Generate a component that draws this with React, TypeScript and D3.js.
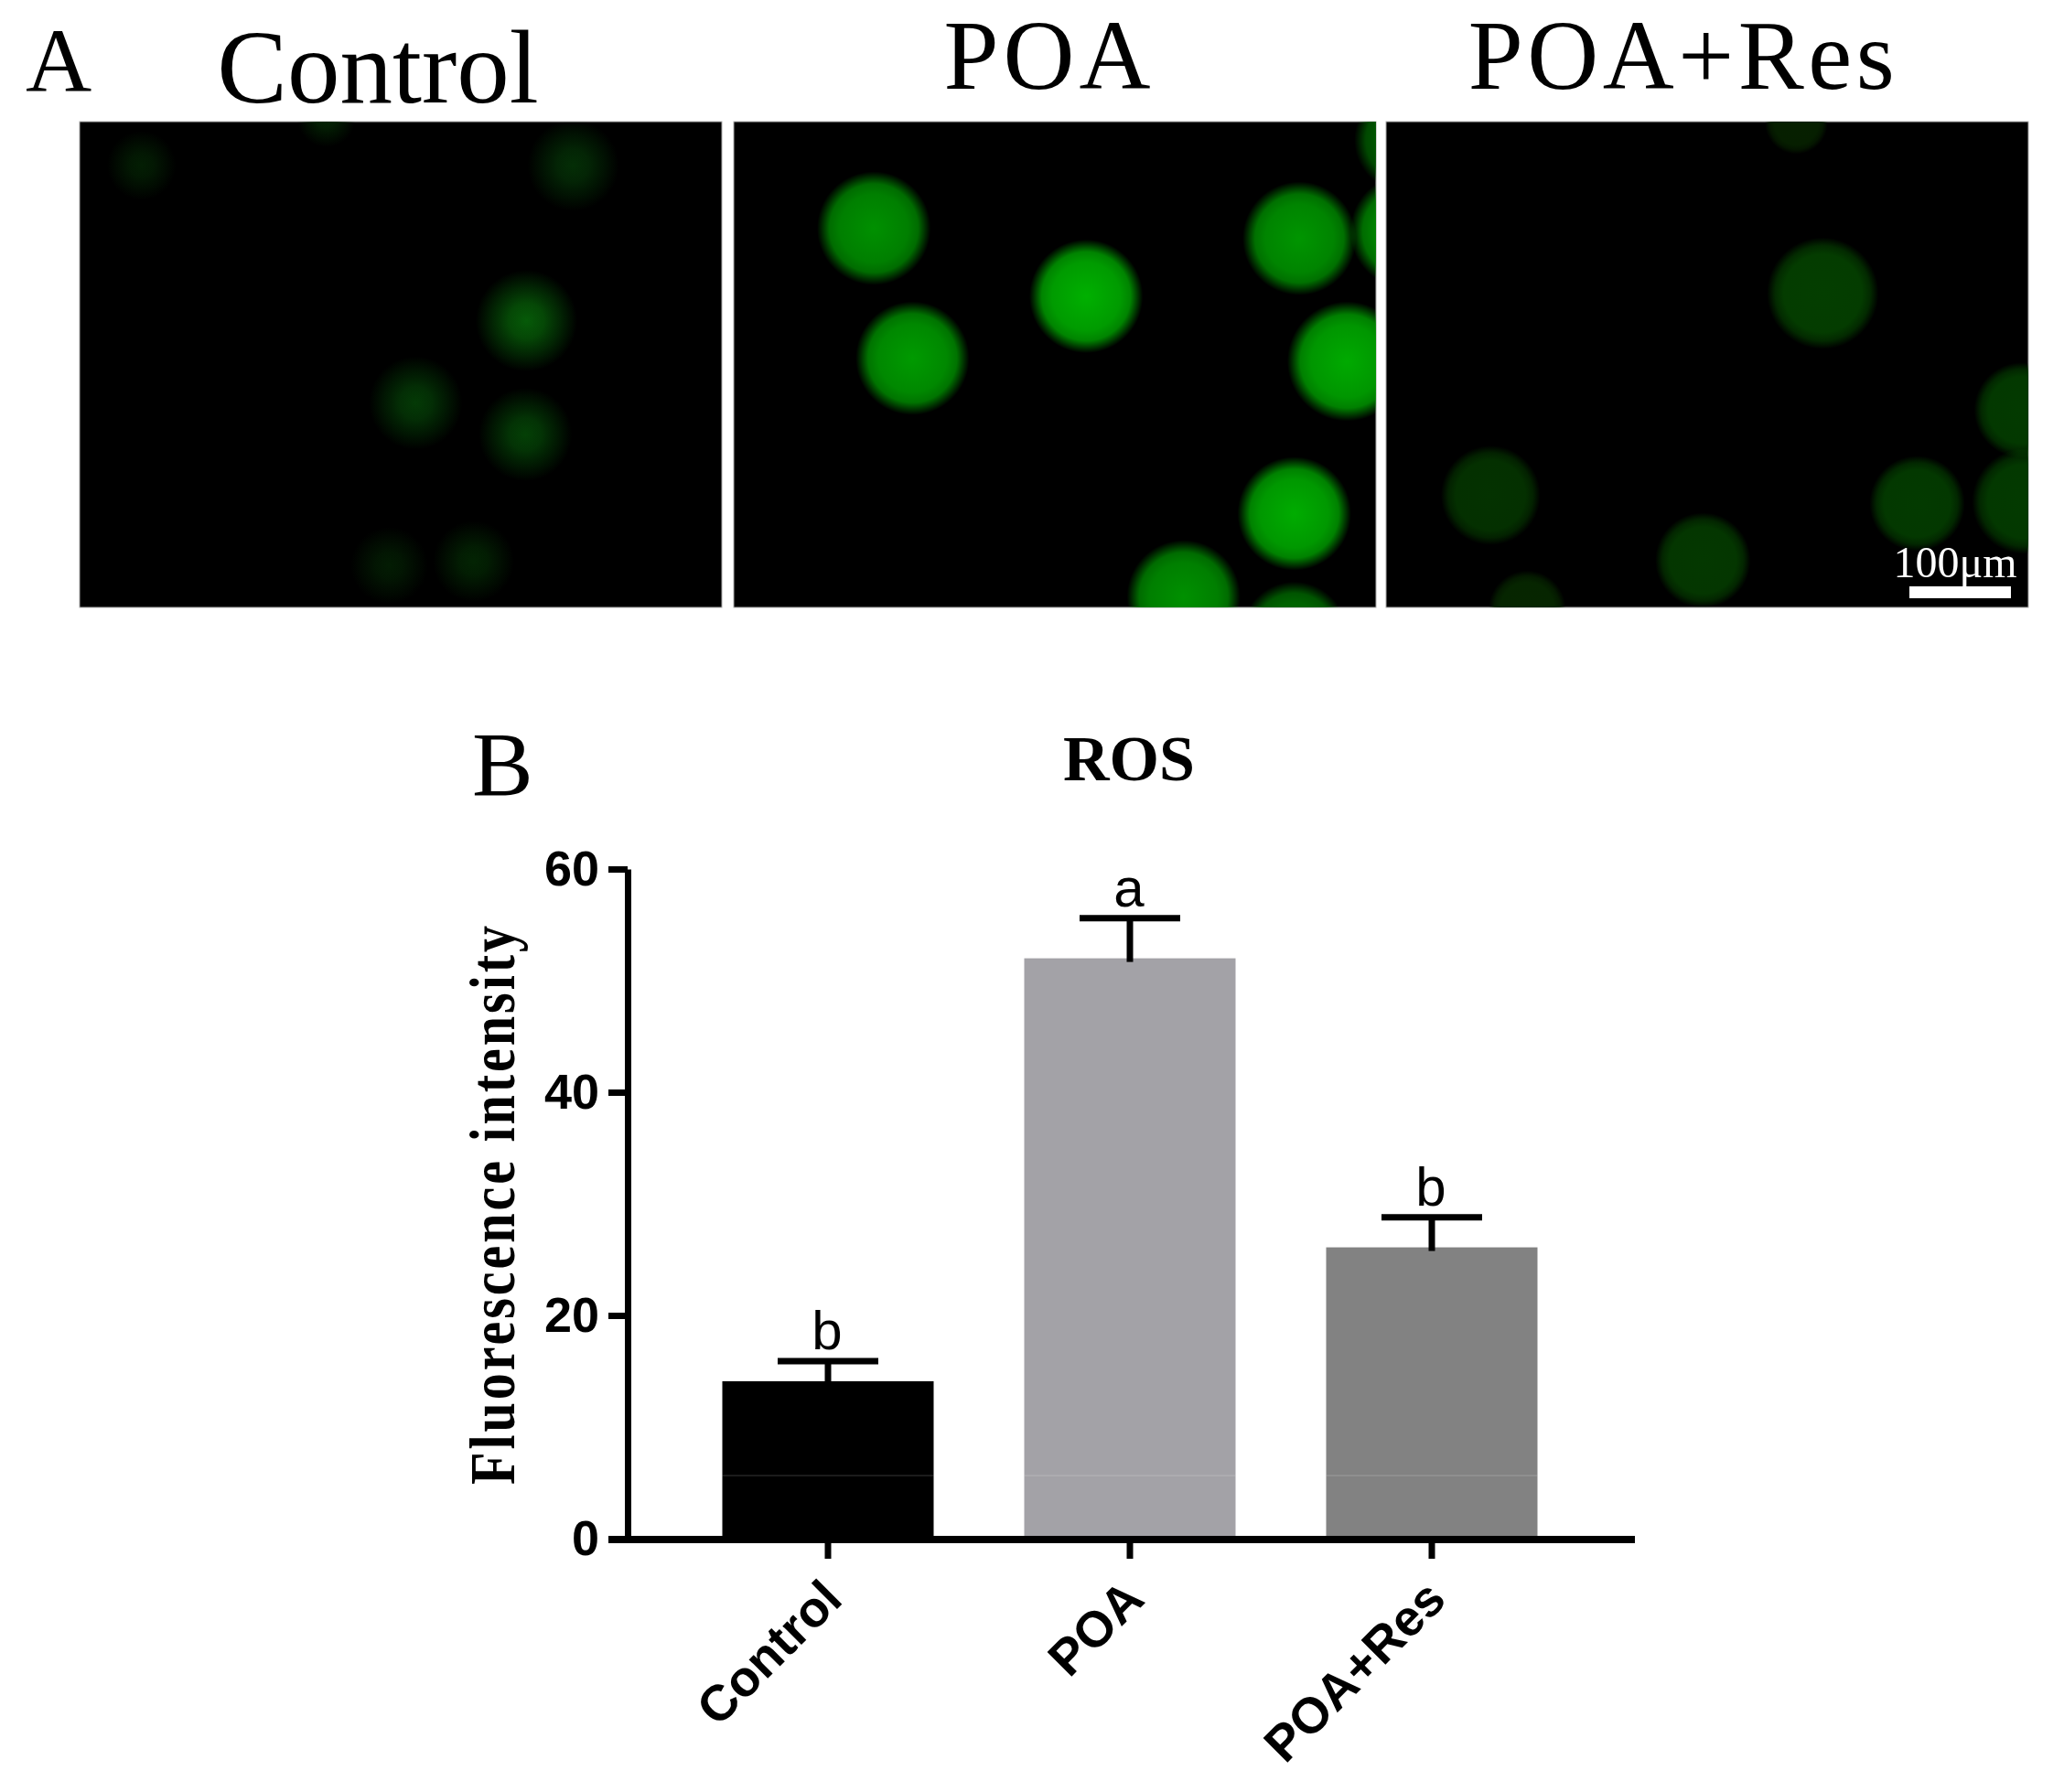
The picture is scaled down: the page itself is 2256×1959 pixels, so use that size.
import { useEffect, useRef } from "react";
import * as d3 from "d3";

// micrographs: cell positions in µm from the top left corner of each field, [x, y, r, colour]
type Cell = [number, number, number, string];
const panelNames = ["Control", "POA", "POA+Res"];
const controlCells: Cell[] = [
  [243, -4, 29, "#042404"],
  [61, 43, 34, "#031e03"],
  [486, 43, 45, "#042e06"],
  [440, 196, 50, "#065a08"],
  [331, 277, 46, "#043a06"],
  [439, 308, 46, "#044006"],
  [305, 437, 38, "#031c03"],
  [388, 433, 40, "#032403"],
];
const poaCells: Cell[] = [
  [138, 105, 56, "#009000"],
  [347, 172, 56, "#00b000"],
  [176, 233, 56, "#009a00"],
  [557, 115, 56, "#009500"],
  [604, 236, 59, "#00aa00"],
  [552, 386, 56, "#00ac00"],
  [443, 468, 56, "#009000"],
  [552, 505, 52, "#007000"],
  [663, 108, 56, "#009000"],
  [663, 18, 52, "#006000"],
];
const resCells: Cell[] = [
  [404, 1, 31, "#062000"],
  [430, 169, 55, "#043e00"],
  [626, 284, 47, "#033a00"],
  [629, 374, 52, "#033a00"],
  [523, 376, 47, "#033a00"],
  [103, 368, 49, "#043200"],
  [312, 432, 47, "#043800"],
  [139, 480, 38, "#062600"],
];
const panelCells = [controlCells, poaCells, resCells];
// how each field fades from the middle of a cell: [offset, darken, opacity]
const panelFades = [
  [[0, 0, 1], [35, 0.2, 0.85], [65, 0.4, 0.5], [100, 0.4, 0]],
  [[0, 0, 1], [60, 0.35, 1], [78, 0.35, 0.85], [92, 0.35, 0.3], [100, 0.35, 0]],
  [[0, 0, 1], [70, 0.1, 1], [85, 0.1, 0.7], [100, 0.1, 0]],
];

// bar chart
const groups = ["Control", "POA", "POA+Res"];
const means = [14.1, 52, 26.1];
const errors = [1.8, 3.6, 2.7];
const letters = ["b", "a", "b"];
const barColors = ["#000000", "#a3a2a7", "#828282"];
const yTicks = [0, 20, 40, 60];

const SERIF = "'Liberation Serif', serif";
const SANS = "'Liberation Sans', sans-serif";

export default function App() {
  const ref = useRef<SVGSVGElement>(null);

  useEffect(() => {
    const svg = d3.select(ref.current);
    svg.selectAll("*").remove();
    const defs = svg.append("defs");

    const label = (txt: string, x: number, y: number, size: number, anchor = "middle") =>
      svg
        .append("text")
        .attr("x", x)
        .attr("y", y)
        .attr("font-family", SERIF)
        .attr("font-size", size)
        .attr("text-anchor", anchor)
        .text(txt);

    label("A", 28, 100, 100, "start");
    label("B", 516, 869, 100, "start");
    label("Control", 413, 112, 115);
    label("POA", 1147, 97, 108).attr("letter-spacing", 5);
    label("POA+Res", 1840, 97, 108).attr("letter-spacing", 4.5);

    // part A
    const panelLeft = [87, 802, 1515];
    const panelW = 702;
    const panelH = 531;
    const panelTop = 133;
    const pxPerUm = 1.11;

    panelNames.forEach((name, p) => {
      const x = d3.scaleLinear().domain([0, panelW / pxPerUm]).range([panelLeft[p], panelLeft[p] + panelW]);
      const y = d3.scaleLinear().domain([0, panelH / pxPerUm]).range([panelTop, panelTop + panelH]);
      const clipId = `clip-${p}`;
      defs
        .append("clipPath")
        .attr("id", clipId)
        .append("rect")
        .attr("x", panelLeft[p])
        .attr("y", panelTop)
        .attr("width", panelW)
        .attr("height", panelH);

      svg
        .append("rect")
        .attr("x", panelLeft[p])
        .attr("y", panelTop)
        .attr("width", panelW)
        .attr("height", panelH)
        .attr("fill", "#000")
        .attr("stroke", "#aaa")
        .attr("stroke-width", 1);

      const g = svg.append("g").attr("clip-path", `url(#${clipId})`).style("isolation", "isolate");
      panelCells[p].forEach((c, i) => {
        const id = `cell-${p}-${i}`;
        const grad = defs.append("radialGradient").attr("id", id);
        panelFades[p].forEach(([offset, dark, op]) => {
          grad
            .append("stop")
            .attr("offset", `${offset}%`)
            .attr("stop-color", d3.color(c[3])!.darker(dark).formatHex())
            .attr("stop-opacity", op);
        });
        g.append("circle")
          .attr("cx", x(c[0]))
          .attr("cy", y(c[1]))
          .attr("r", c[2] * pxPerUm)
          .attr("fill", `url(#${id})`)
          .style("mix-blend-mode", "screen");
      });
    });

    // scale bar
    svg
      .append("rect")
      .attr("x", 2087)
      .attr("y", 641)
      .attr("width", 100 * pxPerUm)
      .attr("height", 13)
      .attr("fill", "#fff");
    label("100μm", 2137, 631, 48).attr("fill", "#fff");

    // part B
    const x = d3.scaleBand<string>().domain(groups).range([740, 1730]).paddingInner(0.3).paddingOuter(0.15);
    const y = d3.scaleLinear().domain([0, 60]).range([1682, 950]);

    label("ROS", 1234, 853, 70).attr("font-weight", "bold");

    label("Fluorescence intensity", 0, 0, 58)
      .attr("font-weight", "bold")
      .attr("letter-spacing", 3)
      .attr("transform", "translate(562,1316) rotate(-90) scale(1,1.2)");

    svg
      .selectAll(".bar")
      .data(groups)
      .enter()
      .append("rect")
      .attr("class", "bar")
      .attr("x", (d) => x(d)!)
      .attr("y", (_, i) => y(means[i]))
      .attr("width", x.bandwidth())
      .attr("height", (_, i) => y(0) - y(means[i]))
      .attr("fill", (_, i) => barColors[i]);

    // faint seam that runs across the bars in the figure
    svg
      .selectAll(".seam")
      .data(groups)
      .enter()
      .append("line")
      .attr("class", "seam")
      .attr("x1", (d) => x(d)!)
      .attr("x2", (d) => x(d)! + x.bandwidth())
      .attr("y1", y(5.65))
      .attr("y2", y(5.65))
      .attr("stroke", "#fff")
      .attr("stroke-opacity", 0.22);

    const center = (d: string) => x(d)! + x.bandwidth() / 2;
    const err = svg.append("g").attr("stroke", "#000").attr("stroke-width", 7);
    groups.forEach((d, i) => {
      const top = y(means[i] + errors[i]);
      err.append("line").attr("x1", center(d)).attr("x2", center(d)).attr("y1", top).attr("y2", y(means[i]) + 4);
      err.append("line").attr("x1", center(d) - 55).attr("x2", center(d) + 55).attr("y1", top).attr("y2", top);
      svg
        .append("text")
        .attr("x", center(d) - 1)
        .attr("y", top - 13)
        .attr("text-anchor", "middle")
        .attr("font-family", SANS)
        .attr("font-size", 60)
        .text(letters[i]);
    });

    const yAxis = svg
      .append("g")
      .attr("transform", "translate(686,0)")
      .call(d3.axisLeft(y).tickValues(yTicks).tickSize(21).tickSizeOuter(0).tickPadding(10));
    yAxis.selectAll("path,line").attr("stroke", "#000").attr("stroke-width", 7);
    yAxis
      .selectAll("text")
      .attr("font-family", SANS)
      .attr("font-weight", "bold")
      .attr("font-size", 54)
      .attr("fill", "#000");

    const xAxis = svg
      .append("g")
      .attr("transform", "translate(0,1683)")
      .call(d3.axisBottom(x).tickSize(21).tickSizeOuter(0));
    xAxis.select(".domain").remove();
    xAxis.selectAll("line").attr("stroke", "#000").attr("stroke-width", 7);
    xAxis
      .selectAll("text")
      .attr("font-family", SANS)
      .attr("font-weight", "bold")
      .attr("font-size", 55)
      .attr("fill", "#000")
      .attr("text-anchor", "end")
      .attr("dy", 0)
      .attr("y", 0)
      .attr("transform", "translate(18,68) rotate(-45)");
    svg
      .append("line")
      .attr("x1", 665)
      .attr("x2", 1787)
      .attr("y1", 1683)
      .attr("y2", 1683)
      .attr("stroke", "#000")
      .attr("stroke-width", 8);
  }, []);

  return <svg ref={ref} width={2256} height={1959} style={{ position: "absolute", left: 0, top: 0, background: "#fff" }} />;
}
